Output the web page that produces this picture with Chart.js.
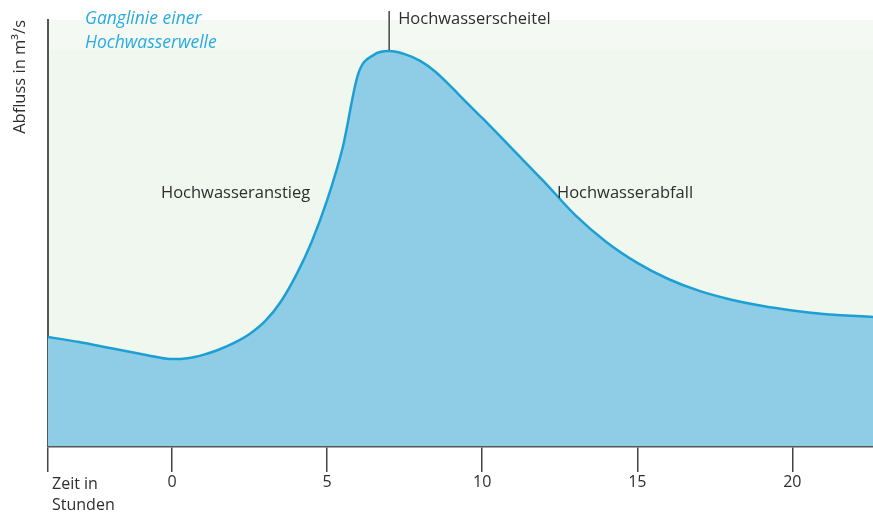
<!DOCTYPE html>
<html>
<head>
<meta charset="utf-8">
<script src="https://cdn.jsdelivr.net/npm/chart.js@4.4.1/dist/chart.umd.min.js"></script>
<style>
    html, body { margin: 0; padding: 0; background: #fff; }
    #wrap { width: 873px; height: 513px; position: relative; }
</style>
</head>
<body>
<div id="wrap"><canvas id="ganglinie"></canvas></div>
<script>
// Zeit in Stunden (x) und Abfluss (y, relative Einheiten)
const stunden = [-4, -3, -2, -1, -0.5, 0, 0.5, 1, 1.5, 2, 2.5, 3, 3.5, 4, 4.5, 5, 5.5, 6, 6.5, 7,
                 7.5, 8, 8.5, 9, 9.5, 10, 11, 12, 13, 14, 15, 16, 17, 18, 19, 20, 21, 22.6];
const abfluss = [25.6, 24.4, 23.0, 21.6, 20.9, 20.4, 20.6, 21.4, 22.6, 24.2, 26.3, 29.3, 33.8, 40.1, 47.9, 57.7, 70.0, 87.3, 91.8, 92.7,
                 92.0, 90.4, 87.8, 84.3, 80.6, 77.0, 69.5, 62.0, 54.2, 47.9, 43.0, 39.2, 36.4, 34.4, 32.9, 31.8, 31.0, 30.3];
const xTicks = [-4, 0, 5, 10, 15, 20];
const scheitelStunde = 7;

const FONT = '"Open Sans", "DejaVu Sans", sans-serif';
const TEXT = '#2e2e2e';

// background + annotations
const deko = {
    id: 'deko',
    beforeDraw(chart) {
        const { ctx, chartArea: a } = chart;
        ctx.save();
        ctx.fillStyle = '#eff7ee';
        ctx.fillRect(a.left, a.top, a.right - a.left, a.bottom - a.top);
        ctx.fillStyle = '#f4f9f3';
        ctx.fillRect(a.left, a.top, a.right - a.left, 30);
        ctx.restore();
    },
    afterDraw(chart) {
        const { ctx, scales: { x, y } } = chart;
        ctx.save();
        // Scheitel marker
        const px = x.getPixelForValue(scheitelStunde);
        const py = y.getPixelForValue(Math.max(...abfluss));
        ctx.strokeStyle = '#444';
        ctx.lineWidth = 1.5;
        ctx.beginPath();
        ctx.moveTo(px, 11);
        ctx.lineTo(px, py - 1);
        ctx.stroke();

        ctx.textBaseline = 'middle';
        ctx.fillStyle = TEXT;
        ctx.font = '16.5px ' + FONT;
        ctx.textAlign = 'left';
        ctx.fillText('Hochwasserscheitel', px + 9, 19);
        ctx.fillText('Hochwasseranstieg', 161, 193);
        ctx.fillText('Hochwasserabfall', 557, 193);

        // axis caption under the first tick
        ctx.font = '16px ' + FONT;
        ctx.fillText('Zeit in', x.left + 4, 484);
        ctx.fillText('Stunden', x.left + 4, 505);

        ctx.fillStyle = '#29abe2';
        ctx.font = 'italic 17.5px ' + FONT;
        ctx.fillText('Ganglinie einer', 85, 19);
        ctx.fillText('Hochwasserwelle', 85, 43);
        ctx.restore();
    }
};

new Chart(document.getElementById('ganglinie'), {
    type: 'line',
    data: {
        datasets: [{
            data: stunden.map((h, i) => ({ x: h, y: abfluss[i] })),
            borderColor: '#1d9fd3',
            backgroundColor: '#8fcde7',
            borderWidth: 2.5,
            pointRadius: 0,
            fill: 'origin',
            cubicInterpolationMode: 'monotone',
        }],
    },
    options: {
        responsive: true,
        maintainAspectRatio: false,
        animation: false,
        layout: { padding: { top: 20, right: 0, left: 0, bottom: 0 } },
        plugins: { legend: { display: false }, tooltip: { enabled: false } },
        scales: {
            x: {
                type: 'linear',
                min: -4,
                max: 22.6,
                afterBuildTicks: s => { s.ticks = xTicks.map(v => ({ value: v })); },
                afterFit: s => { s.height = 67; },
                ticks: {
                    color: TEXT,
                    font: { family: FONT, size: 16 },
                    padding: 1,
                    maxRotation: 0,
                    callback: v => (v < 0 ? '' : v),
                },
                grid: {
                    drawOnChartArea: false,
                    tickLength: 26,
                    color: '#444',
                    lineWidth: 1.5,
                },
                border: { color: '#555', width: 2.5 },
            },
            y: {
                min: 0,
                max: 100,
                afterFit: s => { s.width = 48; },
                ticks: { display: false },
                grid: { drawOnChartArea: false, drawTicks: false },
                border: { color: '#555', width: 2 },
                title: {
                    display: true,
                    text: 'Abfluss in m³/s',
                    align: 'end',
                    color: TEXT,
                    font: { family: FONT, size: 16.5 },
                    padding: { top: 10, bottom: 0 },
                },
            },
        },
    },
    plugins: [deko],
});
</script>
</body>
</html>
